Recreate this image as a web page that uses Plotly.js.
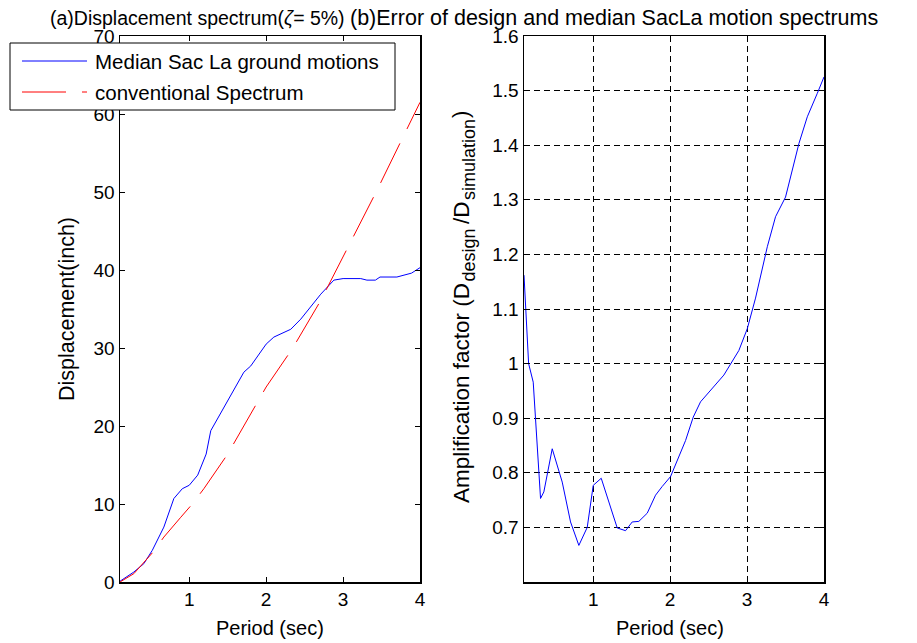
<!DOCTYPE html>
<html>
<head>
<meta charset="utf-8">
<script src="https://cdn.plot.ly/plotly-3.0.1.min.js"></script>
<style>html,body{margin:0;padding:0;background:#fff;}#chart{width:917px;height:643px;}</style>
</head>
<body>
<div id="chart"></div>
<script>
// ---- Data ----
const medianPeriod = [0.1, 0.28, 0.41, 0.52, 0.67, 0.8, 0.91, 1.0, 1.11, 1.22, 1.28, 1.5, 1.63, 1.71, 1.8, 2.0, 2.1, 2.32, 2.45, 2.64, 2.71, 2.88, 3.0, 3.23, 3.31, 3.42, 3.48, 3.7, 3.89, 4.0];
const medianDisp   = [0.1, 1.28, 2.35, 4.06, 7.04, 10.7, 11.96, 12.4, 13.7, 16.4, 19.4, 23.3, 25.6, 26.9, 27.7, 30.5, 31.4, 32.4, 33.7, 36.1, 36.9, 38.7, 38.9, 38.9, 38.7, 38.7, 39.1, 39.1, 39.6, 40.3];
const convPeriod = [0.1, 0.28, 0.53, 0.67, 0.89, 1.04, 1.19, 1.5, 2.0, 2.34, 2.71, 2.84, 3.44, 4.0];
const convDisp   = [0.0, 1.07, 3.84, 5.76, 8.3, 10.0, 11.96, 16.4, 25.0, 29.9, 36.1, 38.6, 50.2, 61.5];
const ampPeriod = [0.1, 0.16, 0.22, 0.315, 0.358, 0.467, 0.597, 0.705, 0.813, 0.922, 1.0, 1.104, 1.312, 1.42, 1.507, 1.593, 1.702, 1.81, 1.897, 2.005, 2.2, 2.3, 2.395, 2.698, 2.893, 3.003, 3.11, 3.263, 3.37, 3.5, 3.674, 3.783, 3.913, 4.0];
const ampFactor = [1.162, 1.0, 0.966, 0.753, 0.765, 0.844, 0.783, 0.71, 0.667, 0.70, 0.777, 0.79, 0.699, 0.694, 0.71, 0.711, 0.726, 0.759, 0.775, 0.793, 0.859, 0.902, 0.93, 0.979, 1.024, 1.064, 1.12, 1.214, 1.269, 1.305, 1.403, 1.452, 1.495, 1.525];
const periodTicks = [1, 2, 3, 4];
const dispTicks = [0, 10, 20, 30, 40, 50, 60, 70];
const ampTicks = [0.7, 0.8, 0.9, 1.0, 1.1, 1.2, 1.3, 1.4, 1.5, 1.6];
const ampTickText = ['0.7', '0.8', '0.9', '1', '1.1', '1.2', '1.3', '1.4', '1.5', '1.6'];
const seriesNames = ['Median Sac La ground motions', 'conventional Spectrum'];
const titleA = '(a)Displacement spectrum(<i>ζ</i>= 5%)';
const titleB = '(b)Error of design and median SacLa motion spectrums';
// right y-axis title pieces: [text, isSubscript]
const ampLabelParts = [['Amplification factor (D', false], ['design', true], ['/D', false], ['simulation', true], [')', false]];

// ---- Layout helpers (pixel -> paper) ----
const W = 917, H = 643;
const px = v => v / W;
const py = v => 1 - v / H;
const FONT = '"Liberation Sans", Arial, Helvetica, sans-serif';
const fs = 20;
const redDash = '44px,16px';

const traces = [
  {x: medianPeriod, y: medianDisp, type: 'scatter', mode: 'lines', name: seriesNames[0],
   line: {color: '#0000ff', width: 1}, xaxis: 'x', yaxis: 'y', showlegend: false},
  {x: convPeriod, y: convDisp, type: 'scatter', mode: 'lines', name: seriesNames[1],
   line: {color: '#ff0000', width: 1, dash: redDash}, xaxis: 'x', yaxis: 'y', showlegend: false},
  {x: ampPeriod, y: ampFactor, type: 'scatter', mode: 'lines', name: 'Amplification',
   line: {color: '#0000ff', width: 1}, xaxis: 'x2', yaxis: 'y2', showlegend: false}
];

const axisCommon = {
  showline: true, mirror: 'ticks', linecolor: '#000', linewidth: 1.5,
  ticks: 'inside', ticklen: 5, tickcolor: '#000', tickwidth: 1,
  zeroline: false, showgrid: false,
  tickfont: {family: FONT, size: 19, color: '#000'}
};

// vertical pixel centres of the label pieces (bottom to top)
const partCentersY = [393, 254.5, 212, 159, 114];
const annotations = [
  {text: titleA, xref: 'paper', yref: 'paper', x: px(48), y: py(18), xanchor: 'left', yanchor: 'middle',
   showarrow: false, font: {family: FONT, size: 19.5, color: '#000'}},
  {text: titleB, xref: 'paper', yref: 'paper', x: px(348), y: py(18), xanchor: 'left', yanchor: 'middle',
   showarrow: false, font: {family: FONT, size: 21.5, color: '#000'}},
  {text: seriesNames[0], xref: 'paper', yref: 'paper', x: px(93), y: py(61), xanchor: 'left', yanchor: 'middle',
   showarrow: false, font: {family: FONT, size: 20.5, color: '#000'}},
  {text: seriesNames[1], xref: 'paper', yref: 'paper', x: px(93), y: py(92), xanchor: 'left', yanchor: 'middle',
   showarrow: false, font: {family: FONT, size: 20.5, color: '#000'}},
  {text: 'Period (sec)', xref: 'paper', yref: 'paper', x: px(270), y: py(628), xanchor: 'center', yanchor: 'middle',
   showarrow: false, font: {family: FONT, size: fs, color: '#000'}},
  {text: 'Period (sec)', xref: 'paper', yref: 'paper', x: px(670), y: py(628), xanchor: 'center', yanchor: 'middle',
   showarrow: false, font: {family: FONT, size: fs, color: '#000'}},
  {text: 'Displacement(inch)', xref: 'paper', yref: 'paper', x: px(67), y: py(309), xanchor: 'center', yanchor: 'middle',
   textangle: -90, showarrow: false, font: {family: FONT, size: 21.5, color: '#000'}}
];
ampLabelParts.forEach((p, i) => {
  annotations.push({text: p[0], xref: 'paper', yref: 'paper', x: px(p[1] ? 469 : 461), y: py(partCentersY[i]),
    xanchor: 'center', yanchor: 'middle', textangle: -90, showarrow: false, borderpad: 0,
    font: {family: FONT, size: p[1] ? 18 : 22.5, color: '#000'}});
});

const layout = {
  width: W, height: H,
  margin: {l: 0, r: 0, t: 0, b: 0},
  paper_bgcolor: '#fff', plot_bgcolor: '#fff',
  font: {family: FONT, size: fs, color: '#000'},
  showlegend: false,
  xaxis: Object.assign({}, axisCommon, {domain: [px(120), px(420)], range: [0.1, 4], tickvals: periodTicks, anchor: 'y'}),
  yaxis: Object.assign({}, axisCommon, {domain: [py(582), py(36)], range: [0, 70], tickvals: dispTicks, anchor: 'x'}),
  xaxis2: Object.assign({}, axisCommon, {domain: [px(524), px(824)], range: [0.1, 4], tickvals: periodTicks, anchor: 'y2',
    showgrid: true, gridcolor: '#000', griddash: '6px,4px', gridwidth: 1}),
  yaxis2: Object.assign({}, axisCommon, {domain: [py(582), py(36)], range: [0.6, 1.6], tickvals: ampTicks, ticktext: ampTickText, anchor: 'x2',
    showgrid: true, gridcolor: '#000', griddash: '6px,4px', gridwidth: 1}),
  shapes: [
    {type: 'rect', xref: 'paper', yref: 'paper', x0: px(10), x1: px(395), y0: py(110), y1: py(43),
     line: {color: '#000', width: 1}, fillcolor: '#fff', layer: 'above'},
    {type: 'line', xref: 'paper', yref: 'paper', x0: px(22), x1: px(87), y0: py(61), y1: py(61),
     line: {color: '#0000ff', width: 1}, layer: 'above'},
    {type: 'line', xref: 'paper', yref: 'paper', x0: px(22), x1: px(87), y0: py(92), y1: py(92),
     line: {color: '#ff0000', width: 1, dash: redDash}, layer: 'above'}
  ],
  annotations: annotations
};

Plotly.newPlot('chart', traces, layout, {displayModeBar: false, staticPlot: true});
</script>
</body>
</html>
